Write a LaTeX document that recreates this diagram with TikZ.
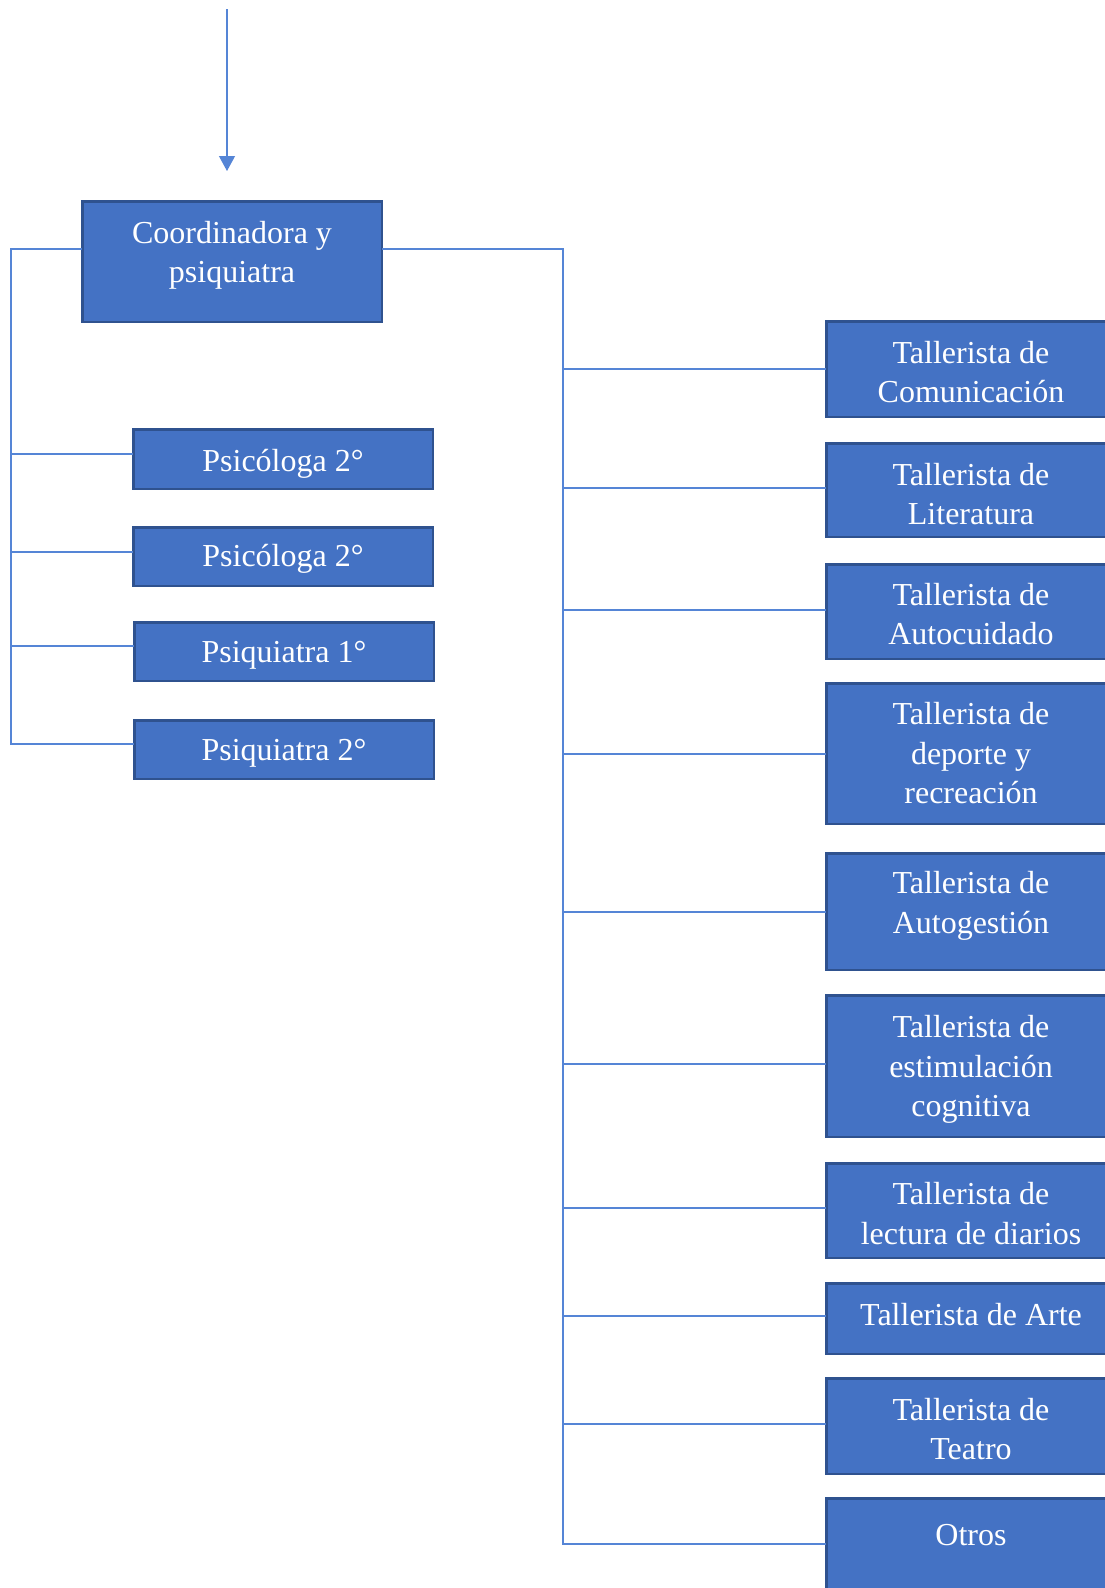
\documentclass[tikz,border=0pt]{standalone}
\usepackage{fontspec}
\setmainfont{Liberation Serif}
\usetikzlibrary{arrows.meta}
\definecolor{boxfill}{HTML}{4472C4}
\definecolor{boxline}{HTML}{2F528F}
\definecolor{conncol}{HTML}{5585D6}
\begin{document}
\begin{tikzpicture}[x=1pt,y=-1pt,
  box/.style={draw=boxline, fill=boxfill, line width=2.5pt, inner sep=0pt, outer sep=0pt},
  lbl/.style={text=white, align=center, inner sep=0pt, anchor=base, font=\fontsize{32}{39.5}\selectfont},
  conn/.style={draw=conncol, line width=1.2pt}]
\clip (0,0) rectangle (1105,1588);
\fill[white] (0,0) rectangle (1105,1588);

% arrow
\coordinate (atop) at (227,9);
\coordinate (atip) at (227,171);
\draw[conn, -{Triangle[width=16pt,length=15pt]}] (atop) -- (atip);

% boxes
\node[box, minimum width=299.5pt, minimum height=120.5pt] (coord) at (232,261.5) {};
\node[box, minimum width=299.5pt, minimum height=59.5pt] (ps1) at (283,459) {};
\node[box, minimum width=299.5pt, minimum height=58.5pt] (ps2) at (283,556.5) {};
\node[box, minimum width=299.5pt, minimum height=58.5pt] (ps3) at (284,651.5) {};
\node[box, minimum width=299.5pt, minimum height=58.5pt] (ps4) at (284,749.5) {};

\node[box, minimum width=289.5pt, minimum height=95.5pt] (r1) at (971,369) {};
\node[box, minimum width=289.5pt, minimum height=93.5pt] (r2) at (971,490) {};
\node[box, minimum width=289.5pt, minimum height=94.5pt] (r3) at (971,611.5) {};
\node[box, minimum width=289.5pt, minimum height=140.5pt] (r4) at (971,753.5) {};
\node[box, minimum width=289.5pt, minimum height=116.5pt] (r5) at (971,911.5) {};
\node[box, minimum width=289.5pt, minimum height=141.5pt] (r6) at (971,1066) {};
\node[box, minimum width=289.5pt, minimum height=94.5pt] (r7) at (971,1210.5) {};
\node[box, minimum width=289.5pt, minimum height=70.5pt] (r8) at (971,1318.5) {};
\node[box, minimum width=289.5pt, minimum height=95.5pt] (r9) at (971,1426) {};
\node[box, minimum width=289.5pt, minimum height=100.5pt] (r10) at (971,1548.5) {};

% texts (anchor = baseline of the last line)
\node[lbl] (coordT) at (232,282.5) {Coordinadora y\\psiquiatra};
\node[lbl] (ps1T) at (283,471) {Psicóloga 2°};
\node[lbl] (ps2T) at (283,566.7) {Psicóloga 2°};
\node[lbl] (ps3T) at (284,662.3) {Psiquiatra 1°};
\node[lbl] (ps4T) at (284,760) {Psiquiatra 2°};

\node[lbl] (r1T) at (971,402.5) {Tallerista de\\Comunicación};
\node[lbl] (r2T) at (971,524.5) {Tallerista de\\Literatura};
\node[lbl] (r3T) at (971,644.5) {Tallerista de\\Autocuidado};
\node[lbl] (r4T) at (971,803.5) {Tallerista de\\deporte y\\recreación};
\node[lbl] (r5T) at (971,933.1) {Tallerista de\\Autogestión};
\node[lbl] (r6T) at (971,1116.5) {Tallerista de\\estimulación\\cognitiva};
\node[lbl] (r7T) at (971,1244.1) {Tallerista de\\lectura de diarios};
\node[lbl] (r8T) at (971,1325) {Tallerista de Arte};
\node[lbl] (r9T) at (971,1459.5) {Tallerista de\\Teatro};
\node[lbl] (r10T) at (971,1545.7) {Otros};

% left bus
\coordinate (lbend) at (11,744);
\draw[conn] ([yshift=12.5pt]coord.west) -| (lbend) -- (ps4.west |- lbend);
\foreach \n/\yy in {ps1/454, ps2/552, ps3/646} {
  \coordinate (lb-\n) at (11,\yy);
  \draw[conn] (lb-\n) -- (\n.west |- lb-\n);
}

% right bus
\coordinate (rbend) at (563,1544);
\draw[conn] ([yshift=12.5pt]coord.east) -| (rbend) -- (r10.west |- rbend);
\foreach \n/\yy in {r1/369, r2/488, r3/610, r4/754, r5/912, r6/1064, r7/1208, r8/1316, r9/1424} {
  \coordinate (rb-\n) at (563,\yy);
  \draw[conn] (rb-\n) -- (\n.west |- rb-\n);
}
\end{tikzpicture}
\end{document}
